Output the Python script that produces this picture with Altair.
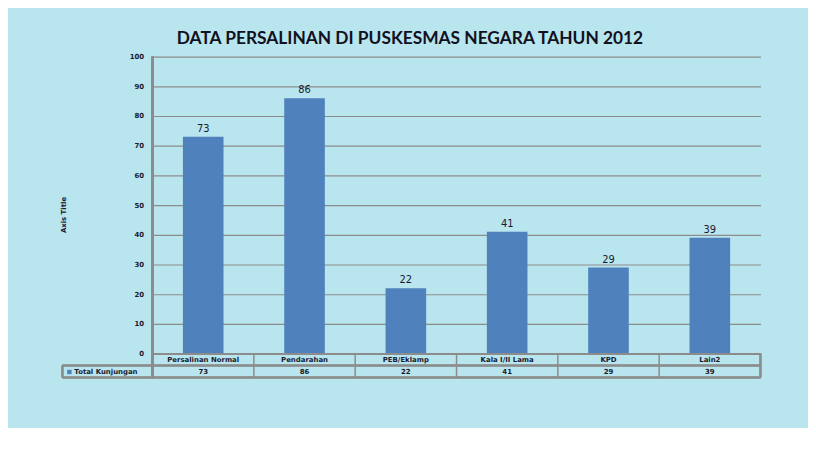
import altair as alt
import pandas as pd

categories = ["Persalinan Normal", "Pendarahan", "PEB/Eklamp", "Kala I/II Lama", "KPD", "Lain2"]
values = [73, 86, 22, 41, 29, 39]
series_name = "Total Kunjungan"
title_text = "DATA PERSALINAN DI PUSKESMAS NEGARA TAHUN 2012"
y_ticks = [0, 10, 20, 30, 40, 50, 60, 70, 80, 90, 100]

df = pd.DataFrame({"cat": categories, "val": values})

W, H = 614, 300
LEFT, TOP = 146, 47
BLUE = "#4f81bd"
GRID = "#8c8c8c"
TXT = "#1a1a30"

xscale = alt.Scale(paddingInner=0, paddingOuter=0)
yscale = alt.Scale(domain=[0, 100], nice=False)
xenc = alt.X("cat:N", sort=categories, axis=None, scale=xscale)
yaxis = alt.Axis(values=y_ticks, tickCount=11, title=None, grid=True, gridColor=GRID,
                 gridWidth=1.2, domain=False, ticks=False, labelPadding=9,
                 labelFontSize=7, labelFont="DejaVu Sans", labelFontWeight="bold",
                 labelColor=TXT, labelOverlap=False)
yenc = alt.Y("val:Q", scale=yscale, axis=yaxis)

base = alt.Chart(df)

bars = base.mark_bar(size=41, color=BLUE).encode(x=xenc, y=yenc)

bar_labels = base.mark_text(dy=-8, fontSize=10, font="DejaVu Sans", color=TXT).encode(
    x=xenc, y=yenc, text="val:Q")

cat_text = base.mark_text(fontSize=7, font="DejaVu Sans", fontWeight="bold", color=TXT).encode(
    x=xenc, y=alt.value(306.5), text="cat:N")

val_text = base.mark_text(fontSize=7, font="DejaVu Sans", fontWeight="bold", color=TXT).encode(
    x=xenc, y=alt.value(318.5), text="val:Q")

vrules = base.mark_rule(color=GRID, strokeWidth=1.5).encode(
    x=alt.X("cat:N", sort=categories, axis=None, bandPosition=0, scale=xscale),
    y=alt.value(300), y2=alt.value(324))

edge_right = base.mark_rule(color=GRID, strokeWidth=1.5).encode(
    x=alt.value(W), y=alt.value(300), y2=alt.value(324))
edge_axis = base.mark_rule(color=GRID, strokeWidth=2).encode(
    x=alt.value(0), y=alt.value(0), y2=alt.value(324))
edge_legend = base.mark_rule(color=GRID, strokeWidth=1.5).encode(
    x=alt.value(-91), y=alt.value(312), y2=alt.value(324))
h1 = base.mark_rule(color=GRID, strokeWidth=1.5).encode(
    x=alt.value(0), x2=alt.value(W), y=alt.value(300))
h2 = base.mark_rule(color=GRID, strokeWidth=1.5).encode(
    x=alt.value(-91), x2=alt.value(W), y=alt.value(312))
h3 = base.mark_rule(color=GRID, strokeWidth=1.5).encode(
    x=alt.value(-91), x2=alt.value(W), y=alt.value(324))

legend_sq = alt.Chart(pd.DataFrame({"s": [series_name]})).mark_square(
    size=20, color=BLUE, opacity=1).encode(x=alt.value(-84), y=alt.value(318.5))
legend_txt = alt.Chart(pd.DataFrame({"s": [series_name]})).mark_text(
    align="left", fontSize=7, font="DejaVu Sans", fontWeight="bold", color=TXT).encode(
    x=alt.value(-79), y=alt.value(318.5), text="s:N")

title = alt.Chart(pd.DataFrame({"t": [title_text]})).mark_text(
    fontSize=17.5, font="Lato", fontWeight="bold", color="#111122").encode(
    x=alt.value(260), y=alt.value(-18), text="t:N")

axis_title = alt.Chart(pd.DataFrame({"t": ["Axis Title"]})).mark_text(
    angle=270, fontSize=7, font="DejaVu Sans", fontWeight="bold", color=TXT).encode(
    x=alt.value(-89), y=alt.value(160), text="t:N")

chart = alt.layer(
    bars, bar_labels, h1, h2, h3, vrules, edge_right, edge_axis, edge_legend,
    cat_text, val_text, legend_sq, legend_txt, title, axis_title
).properties(
    width=W, height=H,
    autosize=alt.AutoSizeParams(type="none"),
    padding={"left": LEFT, "top": TOP, "right": 808 - LEFT - W, "bottom": 420 - TOP - H},
    background="#b9e5ee",
).configure_view(stroke=None)

chart.save("out.html", embed_options={"renderer": "svg", "actions": False})
